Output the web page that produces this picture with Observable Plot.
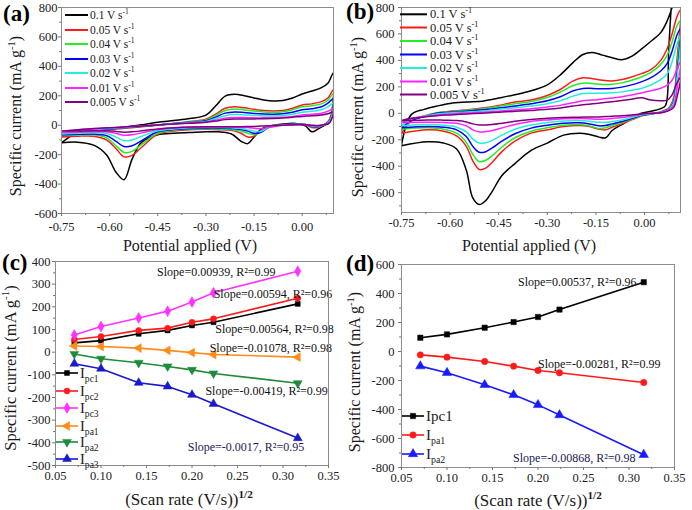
<!DOCTYPE html>
<html><head><meta charset="utf-8">
<script src="https://cdn.jsdelivr.net/npm/d3@7"></script>
<script src="https://cdn.jsdelivr.net/npm/@observablehq/plot@0.6"></script>
<style>
body{margin:0;background:#fff;}
#wrap{position:relative;width:692px;height:510px;overflow:hidden;background:#fff;}
.panel{position:absolute;width:346px;height:255px;}
.panel svg{overflow:visible;background:transparent;}
.panel svg text{font-family:'Liberation Serif','Times New Roman',serif !important;}
</style></head><body><div id="wrap"></div>
<script>
// ---------- shared series ----------
const rates = ["0.1", "0.05", "0.04", "0.03", "0.02", "0.01", "0.005"];
const rateColors = ["#000000", "#ff1a1a", "#22ee22", "#0000ff", "#22eedd", "#ff22ff", "#800080"];

// ---------- panel (a) CV curves ----------
const cvA_upperX = [-0.75,-0.7,-0.65,-0.6,-0.55,-0.5,-0.45,-0.4,-0.35,-0.3,-0.27,-0.24,-0.21,-0.18,-0.15,-0.12,-0.09,-0.06,-0.03,0,0.03,0.06,0.08,0.097];
const cvA_upper = [
  [-120,-50,-35,-25,-12,3,20,32,45,68,130,198,210,200,185,172,165,168,185,212,232,255,285,355],
  [-80,-50,-40,-30,-20,-10,0,12,25,40,75,115,125,118,108,100,97,100,115,138,145,160,185,240],
  [-70,-45,-35,-27,-18,-8,2,12,23,36,65,100,110,104,96,90,88,92,105,125,132,145,170,215],
  [-65,-40,-32,-25,-16,-7,2,11,20,30,55,82,90,86,80,76,75,78,88,105,112,125,150,180],
  [-60,-38,-30,-22,-14,-6,2,10,18,26,45,65,72,70,66,63,63,66,74,88,95,105,125,150],
  [-50,-33,-26,-19,-12,-5,2,9,15,22,35,48,52,52,50,50,51,54,60,70,75,82,95,110],
  [-40,-30,-23,-17,-11,-5,2,8,14,20,28,38,42,43,43,44,46,49,54,60,64,70,78,90]
];
const cvA_lowerX = [0.085,0.07,0.05,0.03,0.01,-0.02,-0.06,-0.1,-0.13,-0.15,-0.17,-0.19,-0.22,-0.26,-0.3,-0.35,-0.4,-0.45,-0.5,-0.53,-0.555,-0.58,-0.61,-0.65,-0.7,-0.75];
const cvA_lower = [
  [20,0,-25,-45,-5,12,8,-5,-30,-80,-125,-110,-60,-45,-45,-50,-55,-65,-115,-230,-370,-320,-200,-135,-115,-120],
  [40,5,-15,-15,5,8,3,-5,-40,-75,-80,-55,-35,-30,-28,-30,-40,-60,-150,-205,-215,-160,-100,-75,-75,-80],
  [35,5,-10,-10,5,7,3,-5,-45,-65,-55,-40,-30,-25,-24,-26,-35,-55,-130,-178,-185,-140,-85,-65,-68,-70],
  [30,5,-8,-8,5,6,2,-10,-50,-55,-40,-30,-22,-20,-20,-22,-30,-45,-105,-140,-145,-110,-70,-60,-62,-65],
  [25,5,-5,-5,4,5,1,-12,-42,-40,-30,-22,-18,-16,-16,-18,-25,-38,-75,-100,-105,-80,-55,-52,-55,-60],
  [20,5,-3,-3,3,4,0,-14,-24,-20,-16,-14,-12,-12,-12,-14,-20,-30,-52,-65,-68,-56,-45,-45,-48,-50],
  [15,5,-2,0,3,3,0,-3,-6,-8,-9,-10,-10,-10,-10,-12,-17,-25,-38,-45,-47,-42,-38,-38,-40,-40]
];

// ---------- panel (b) CV curves ----------
const cvB_upperX = [-0.75,-0.72,-0.68,-0.64,-0.6,-0.55,-0.5,-0.45,-0.4,-0.35,-0.3,-0.26,-0.22,-0.19,-0.16,-0.13,-0.1,-0.07,-0.04,-0.01,0.02,0.05,0.07,0.085,0.1,0.111];
const cvB_upper = [
  [-240,-10,30,55,75,85,92,115,140,170,215,290,385,445,460,440,420,405,430,485,545,610,700,800,950,1050],
  [-150,-60,-20,5,15,25,40,60,85,100,135,180,245,268,262,250,245,255,275,300,330,400,490,600,730,780],
  [-120,-55,-20,3,12,22,35,52,72,90,120,160,210,228,225,218,220,230,250,275,310,370,440,540,660,700],
  [-110,-55,-25,0,8,16,26,40,55,72,95,125,170,188,188,185,188,198,215,238,270,320,378,470,590,640],
  [-95,-45,-22,-5,3,10,18,30,42,55,72,95,130,150,152,152,155,162,175,188,215,255,300,390,520,590],
  [-70,-40,-25,-12,-5,2,8,16,25,35,48,60,80,95,100,108,116,125,138,153,170,190,213,250,330,390],
  [-55,-38,-28,-18,-12,-5,1,8,15,22,30,40,55,65,72,80,88,97,107,118,100,95,100,140,230,270]
];
const cvB_lowerX = [0.1,0.09,0.075,0.065,0.05,0.02,-0.01,-0.04,-0.07,-0.1,-0.12,-0.14,-0.17,-0.2,-0.25,-0.3,-0.35,-0.4,-0.44,-0.47,-0.49,-0.51,-0.53,-0.55,-0.58,-0.62,-0.67,-0.75];
const cvB_lower = [
  [1000,950,500,60,35,15,0,-40,-85,-130,-185,-180,-160,-150,-165,-225,-280,-380,-470,-590,-660,-690,-640,-430,-270,-225,-215,-245],
  [400,120,40,25,10,-5,-20,-50,-80,-105,-125,-120,-100,-92,-100,-125,-150,-210,-290,-370,-415,-425,-360,-250,-170,-135,-125,-150],
  [350,100,35,22,8,-5,-18,-45,-70,-92,-110,-115,-95,-85,-90,-110,-135,-185,-255,-320,-355,-365,-310,-220,-150,-120,-110,-120],
  [300,90,30,20,7,-5,-15,-40,-62,-80,-92,-95,-80,-72,-75,-90,-112,-155,-210,-262,-290,-295,-250,-175,-125,-105,-100,-110],
  [260,80,28,18,6,-4,-12,-32,-50,-62,-68,-68,-60,-55,-58,-70,-88,-120,-165,-205,-222,-225,-195,-140,-105,-90,-85,-95],
  [180,60,25,15,5,-2,-8,-20,-32,-40,-43,-45,-42,-40,-42,-50,-62,-85,-110,-130,-138,-140,-125,-95,-75,-70,-68,-70],
  [120,45,20,12,4,0,-5,-12,-18,-22,-25,-27,-28,-30,-32,-38,-46,-60,-75,-85,-88,-88,-80,-65,-55,-52,-50,-55]
];

// ---------- panels (c) and (d) ----------
const sqrtRate = [0.0707, 0.1, 0.1414, 0.1732, 0.2, 0.2236, 0.3162];
const c_Ipc1 = [41, 51, 81, 96, 118, 132, 213];
const c_Ipc2 = [56, 69, 96, 106, 132, 147, 238];
const c_Ipc3 = [76, 113, 151, 181, 221, 262, 357];
const c_Ipa1 = [27, 25, 18, 8, -2, -10, -22];
const c_Ipa2 = [-8, -29, -47, -63, -78, -94, -137];
const c_Ipa3 = [-51, -73, -135, -151, -188, -228, -379];
const d_Ipc1 = [95, 118, 164, 203, 238, 289, 478];
const d_Ipa1 = [-23, -39, -69, -101, -131, -147, -214];
const d_Ipa2 = [-101, -147, -230, -299, -368, -438, -712];

const c_slopes = ["Slope=0.00939, R²=0.99", "Slope=0.00594, R²=0.96", "Slope=0.00564, R²=0.98", "Slope=-0.01078, R²=0.98", "Slope=-0.00419, R²=0.99", "Slope=-0.0017, R²=0.95"];
const d_slopes = ["Slope=0.00537, R²=0.96", "Slope=-0.00281, R²=0.99", "Slope=-0.00868, R²=0.98"];

// tick lists
const cvXTicks = [-0.75, -0.6, -0.45, -0.3, -0.15, 0];
const cvXMinor = [-0.675, -0.525, -0.375, -0.225, -0.075, 0.075];
const cvYTicks = [-600, -400, -200, 0, 200, 400, 600, 800];
const cvYMinor = [-700, -500, -300, -100, 100, 300, 500, 700];
const srXTicks = [0.05, 0.1, 0.15, 0.2, 0.25, 0.3, 0.35];
const srXMinor = [0.075, 0.125, 0.175, 0.225, 0.275, 0.325];
const cYTicks = [-500, -400, -300, -200, -100, 0, 100, 200, 300, 400];
const cYMinor = [-450, -350, -250, -150, -50, 50, 150, 250, 350];
const dYTicks = [-800, -600, -400, -200, 0, 200, 400, 600];
const dYMinor = [-700, -500, -300, -100, 100, 300, 500];

// ---------- helpers ----------
const W = 346, H = 255;
const SERIF = "'Liberation Serif', 'Times New Roman', serif";
const wrap = document.getElementById("wrap");
const sqrt3 = Math.sqrt(3);
const triDown = {draw(ctx, size) { const y = -Math.sqrt(size / (sqrt3 * 3)); ctx.moveTo(0, -y * 2); ctx.lineTo(-sqrt3 * y, y); ctx.lineTo(sqrt3 * y, y); ctx.closePath(); }};
const triLeft = {draw(ctx, size) { const y = -Math.sqrt(size / (sqrt3 * 3)); ctx.moveTo(y * 2, 0); ctx.lineTo(-y, -sqrt3 * y); ctx.lineTo(-y, sqrt3 * y); ctx.closePath(); }};

function place(node, left, top) {
  const d = document.createElement("div");
  d.className = "panel"; d.style.left = left + "px"; d.style.top = top + "px";
  d.appendChild(node); wrap.appendChild(d);
}
function rich(svg, x, y, parts, {size = 16, weight = "normal", anchor = "start", rotate = 0, fill = "#111"} = {}) {
  const t = d3.select(svg).append("text")
    .attr("transform", `translate(${x},${y}) rotate(${rotate})`)
    .attr("text-anchor", anchor).attr("font-family", SERIF)
    .attr("font-size", size).attr("font-weight", weight).attr("fill", fill);
  let shift = 0;
  for (const p of parts) {
    const [s, kind, w] = Array.isArray(p) ? p : [p, null, null];
    const target = kind === "sup" ? -size * 0.4 : kind === "sub" ? size * 0.3 : 0;
    const ts = t.append("tspan").text(s).attr("dy", target - shift);
    shift = target;
    if (kind) ts.attr("font-size", size * 0.66);
    if (w) ts.attr("font-weight", w);
  }
  return t;
}
const baseStyle = {fontFamily: SERIF, fontSize: "12.5px", color: "#222", background: "transparent", overflow: "visible"};

function axes(xt, xm, yt, ym, xfmt, xpad, ypad) {
  const f = {fontFamily: SERIF, fontSize: 12.5, stroke: "#777", label: null};
  return [
    Plot.frame({stroke: "#8c8c8c"}),
    Plot.axisX({...f, ticks: xt, tickFormat: xfmt, tickSize: 3, tickPadding: xpad}),
    Plot.axisX({...f, ticks: xm, tickFormat: () => "", tickSize: 2}),
    Plot.axisY({...f, ticks: yt, tickFormat: d => String(d), tickSize: 3, tickPadding: ypad}),
    Plot.axisY({...f, ticks: ym, tickFormat: () => "", tickSize: 2})
  ];
}

function cvPlot(ux, up, lx, lo, xDomain, yDomain, m, ypad, xpad) {
  const rows = [];
  rates.forEach((r, i) => {
    ux.forEach((x, j) => rows.push({rate: r, x, y: up[i][j]}));
    lx.forEach((x, j) => rows.push({rate: r, x, y: lo[i][j]}));
  });
  return Plot.plot({
    width: W, height: H, marginLeft: m[0], marginRight: m[1], marginTop: m[2], marginBottom: m[3],
    x: {domain: xDomain}, y: {domain: yDomain},
    color: {domain: rates, range: rateColors},
    style: baseStyle,
    marks: [
      Plot.line(rows, {x: "x", y: "y", z: "rate", stroke: "rate", strokeWidth: 1.5, curve: "catmull-rom", clip: true}),
      ...axes(cvXTicks, cvXMinor, cvYTicks, cvYMinor, d => d.toFixed(2), xpad, ypad)
    ]
  });
}

function cvLegend(svg, x0, x1, tx, rows, size) {
  rates.forEach((r, i) => {
    d3.select(svg).append("line").attr("x1", x0).attr("x2", x1).attr("y1", rows[i]).attr("y2", rows[i])
      .attr("stroke", rateColors[i]).attr("stroke-width", 2);
    rich(svg, tx, rows[i] + size * 0.33, [r + " V s", ["-1", "sup"]], {size, fill: "#1a1a1a"});
  });
}

function srPlot(series, yDomain, yt, ym, m, notes, ypad) {
  const marks = [];
  series.forEach(s => {
    const rows = sqrtRate.map((x, j) => ({x, y: s.values[j]}));
    marks.push(Plot.line(rows, {x: "x", y: "y", stroke: s.color, strokeWidth: 1.6}));
    marks.push(Plot.dot(rows, {x: "x", y: "y", fill: s.color, stroke: s.color, strokeWidth: 0.5, symbol: s.symbol, r: s.r}));
  });
  notes.forEach(n => marks.push(Plot.text([n], {x: "x", y: "y", text: "text", fill: n.color, textAnchor: "start", fontSize: 12, fontFamily: SERIF})));
  return Plot.plot({
    width: W, height: H, marginLeft: m[0], marginRight: m[1], marginTop: m[2], marginBottom: m[3],
    x: {domain: [0.05, 0.35]}, y: {domain: yDomain},
    style: baseStyle,
    marks: [...marks, ...axes(srXTicks, srXMinor, yt, ym, d => d.toFixed(2), 3, ypad)]
  });
}

function srLegend(svg, series, rows, size) {
  series.forEach((s, i) => {
    const g = d3.select(svg);
    g.append("line").attr("x1", 56).attr("x2", 78).attr("y1", rows[i]).attr("y2", rows[i]).attr("stroke", s.color).attr("stroke-width", 1.6);
    g.append("path").attr("transform", `translate(67,${rows[i]})`)
      .attr("d", d3.symbol(s.symbol, s.r * s.r * Math.PI)()).attr("fill", s.color).attr("stroke", s.color).attr("stroke-width", 0.5);
    rich(svg, 80, rows[i] + size * 0.33, s.legend, {size, fill: "#1a1a1a"});
  });
}

function yLabel(svg, x, y, size) {
  rich(svg, x, y, ["Specific current (mA g", ["-1", "sup"], ")"], {size, anchor: "middle", rotate: -90, fill: "#1a1a1a"});
}

// ---------- panel (a) ----------
const pa = cvPlot(cvA_upperX, cvA_upper, cvA_lowerX, cvA_lower, [-0.75, 0.0975], [-600, 800], [61, 13, 7, 42], 1, 6);
place(pa, 0, 0);
cvLegend(pa, 65, 88, 90, [15, 30, 44, 59, 73, 88, 102], 11.5);
yLabel(pa, 21, 116, 16);
rich(pa, 190, 251, ["Potential applied (V)"], {size: 16, anchor: "middle", fill: "#1a1a1a"});
rich(pa, 3, 21, ["(a)"], {size: 23, weight: "bold", fill: "#000"});

// ---------- panel (b) ----------
const pb = cvPlot(cvB_upperX, cvB_upper, cvB_lowerX, cvB_lower, [-0.75, 0.111], [-750, 800], [55, 12, 7, 43], 4, 3);
place(pb, 346, 0);
cvLegend(pb, 54, 81, 84, [14.3, 27.5, 41, 54.5, 68, 81.5, 94.5], 12.5);
yLabel(pb, 17, 117, 16);
rich(pb, 183, 251, ["Potential applied (V)"], {size: 16, anchor: "middle", fill: "#1a1a1a"});
rich(pb, 0, 19, ["(b)"], {size: 23, weight: "bold", fill: "#000"});

// ---------- panel (c) ----------
const cSeries = [
  {values: c_Ipc1, color: "#000000", symbol: d3.symbolSquare, r: 2.8, legend: ["I", ["pc1", "sub"]]},
  {values: c_Ipc2, color: "#ff1a1a", symbol: d3.symbolCircle, r: 3, legend: ["I", ["pc2", "sub"]]},
  {values: c_Ipc3, color: "#ff33ff", symbol: d3.symbolDiamond, r: 3.3, legend: ["I", ["pc3", "sub"]]},
  {values: c_Ipa1, color: "#ff8c1a", symbol: triLeft, r: 3.3, legend: ["I", ["pa1", "sub"]]},
  {values: c_Ipa2, color: "#1f8a3c", symbol: triDown, r: 3.3, legend: ["I", ["pa2", "sub"]]},
  {values: c_Ipa3, color: "#1a1acc", symbol: d3.symbolTriangle, r: 3.3, legend: ["I", ["pa3", "sub"]]}
];
const cNotes = [
  {x: 0.1616, y: 353, text: c_slopes[0], color: "#111"},
  {x: 0.2238, y: 257, text: c_slopes[1], color: "#111"},
  {x: 0.2256, y: 100, text: c_slopes[2], color: "#111"},
  {x: 0.2194, y: 19, text: c_slopes[3], color: "#111"},
  {x: 0.2147, y: -173, text: c_slopes[4], color: "#111"},
  {x: 0.1953, y: -419, text: c_slopes[5], color: "#1a1a55"}
];
const pc = srPlot(cSeries, [-500, 400], cYTicks, cYMinor, [55, 18, 6, 45], cNotes, 2);
place(pc, 0, 255);
srLegend(pc, cSeries, [118, 136, 153, 171, 187, 204], 14.5);
yLabel(pc, 16, 113, 16.5);
rich(pc, 189, 250, ["(Scan rate (V/s))", ["1/2", "sup", "bold"]], {size: 17, anchor: "middle", fill: "#1a1a1a"});
rich(pc, 2, 15, ["(c)"], {size: 23, weight: "bold", fill: "#000"});

// ---------- panel (d) ----------
const dSeries = [
  {values: d_Ipc1, color: "#000000", symbol: d3.symbolSquare, r: 3, legend: ["Ipc1"]},
  {values: d_Ipa1, color: "#ff1a1a", symbol: d3.symbolCircle, r: 3.2, legend: ["I", ["pa1", "sub"]]},
  {values: d_Ipa2, color: "#1a1aff", symbol: d3.symbolTriangle, r: 3.5, legend: ["I", ["pa2", "sub"]]}
];
const dNotes = [
  {x: 0.178, y: 480, text: d_slopes[0], color: "#111"},
  {x: 0.2, y: -85, text: d_slopes[1], color: "#111"},
  {x: 0.1726, y: -738, text: d_slopes[2], color: "#1a1a55"}
];
const pd = srPlot(dSeries, [-800, 600], dYTicks, dYMinor, [55, 18, 9, 43], dNotes, 4);
place(pd, 346, 255);
srLegend(pd, dSeries, [161, 180, 199], 15);
yLabel(pd, 14, 117, 16);
rich(pd, 192, 251, ["(Scan rate (V/s))", ["1/2", "sup", "bold"]], {size: 17, anchor: "middle", fill: "#1a1a1a"});
rich(pd, 0, 16, ["(d)"], {size: 23, weight: "bold", fill: "#000"});
</script>
</body></html>
